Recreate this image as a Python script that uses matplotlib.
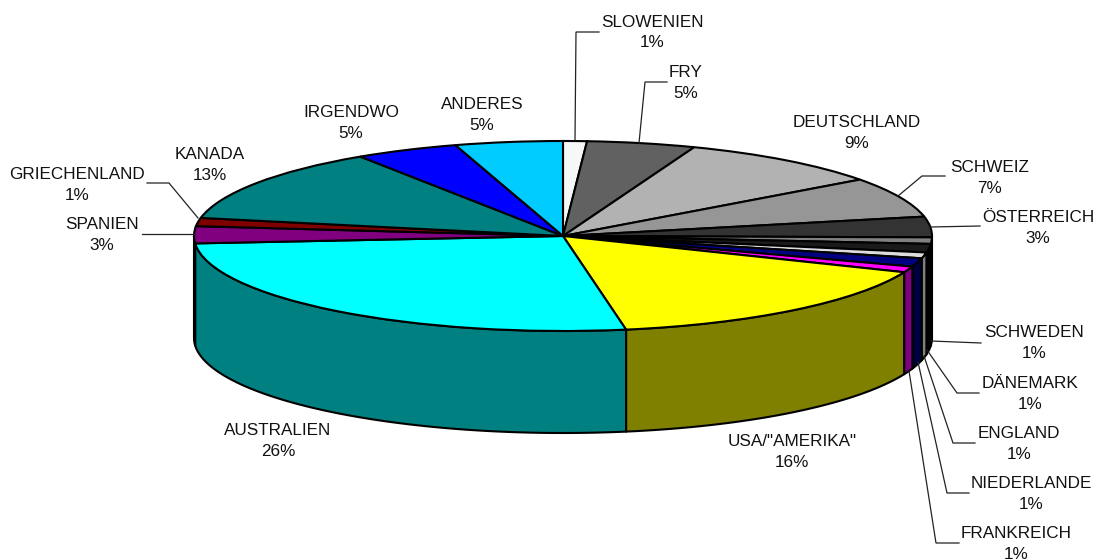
#!/usr/bin/env python3
"""Pseudo-3D pie chart: countries, drawn as an elliptical pie with a side wall."""

import numpy as np
import matplotlib
matplotlib.use("Agg")
import matplotlib.pyplot as plt

labels = ["SLOWENIEN", "FRY", "DEUTSCHLAND", "SCHWEIZ", "ÖSTERREICH", "SCHWEDEN",
          "DÄNEMARK", "ENGLAND", "NIEDERLANDE", "FRANKREICH", 'USA/"AMERIKA"',
          "AUSTRALIEN", "SPANIEN", "GRIECHENLAND", "KANADA", "IRGENDWO", "ANDERES"]
values = [1.04, 4.75, 9.1, 6.85, 3.5, 1.1, 1.45, 1.0, 1.45, 1.0, 16.05,
          26.5, 2.9, 1.4, 12.7, 4.55, 4.71]
top_colors = ["#f7f7f7", "#616161", "#b2b2b2", "#969696", "#333333", "#808080",
              "#1a1a1a", "#dddddd", "#000080", "#ff00ff", "#ffff00",
              "#00ffff", "#800080", "#800000", "#008080", "#0000ff", "#00ccff"]
side_colors = ["#7b7b7b", "#303030", "#595959", "#4b4b4b", "#1a1a1a", "#404040",
               "#000000", "#808080", "#000040", "#800080", "#808000",
               "#008080", "#400040", "#400000", "#004040", "#000080", "#006680"]

# label centre in pixels, leader line in pixels (None = no leader)
label_pos = [(652, 32.5), (686, 83), (857, 133), (990, 178), (1038, 228), (1034, 343),
             (1030, 394), (1019, 444), (1031, 494), (1016, 544), (792, 452),
             (278, 441), (102, 235), (77, 185), (210, 165), (351, 123), (482, 115)]
leaders = [[(599, 32), (576, 32), (575, 140)],
           [(667, 82), (645, 82), (639, 143)],
           None,
           [(945, 176), (922, 176), (898, 196)],
           [(980, 226), (930, 227)],
           [(981, 343), (931, 341)],
           [(979, 393), (957, 393), (927, 350)],
           [(975, 443), (953, 443), (924, 356)],
           [(969, 493), (947, 493), (918, 362)],
           [(959, 543), (936, 543), (909, 371)],
           None, None,
           [(142, 234), (194, 234)],
           [(147, 183), (169, 183), (198, 218)],
           None, None, None]

W, H = 1096, 560
CX, CY, RX, RY, DEPTH = 563, 236, 369, 95, 102
EDGE = 1.5

fig = plt.figure(figsize=(W / 100, H / 100), dpi=100)

# pie axes: one data unit is RX pixels across and RY pixels down
ax = fig.add_axes([0, 0, 1, 1])
ax.pie(values, colors=top_colors, startangle=90, counterclock=False, radius=1,
       wedgeprops={"edgecolor": "black", "linewidth": EDGE, "zorder": 3})
ax.set_aspect("auto")
ax.set_xlim(-CX / RX, (W - CX) / RX)
ax.set_ylim(-(H - CY) / RY, CY / RY)

# side wall: front half of the rim, clockwise angle from 12 o'clock
edges = np.cumsum([0] + values) / sum(values) * 360
depth = DEPTH / RY
for i in range(len(values)):
    a0, a1 = max(edges[i], 90), min(edges[i + 1], 270)
    if a1 <= a0:
        continue
    t = np.radians(np.linspace(a0, a1, 80))
    x, y = np.sin(t), np.cos(t)
    ax.fill(np.r_[x, x[::-1]], np.r_[y, y[::-1] - depth], facecolor=side_colors[i],
            edgecolor="black", linewidth=EDGE, zorder=2, joinstyle="round")

# labels and leaders in pixel coordinates
ov = fig.add_axes([0, 0, 1, 1])
ov.set_xlim(0, W)
ov.set_ylim(H, 0)
ov.axis("off")
ov.patch.set_alpha(0)

total = sum(values)
for name, v, pos, lead in zip(labels, values, label_pos, leaders):
    ov.text(pos[0], pos[1], f"{name}\n{v / total * 100:.0f}%", ha="center", va="center",
            fontsize=12.35, family="Liberation Sans", color="#111111", linespacing=1.42)
    if lead:
        ov.plot(*zip(*lead), color="#222222", lw=0.9, solid_joinstyle="miter")

fig.savefig("out.png", dpi=100, facecolor="white")
